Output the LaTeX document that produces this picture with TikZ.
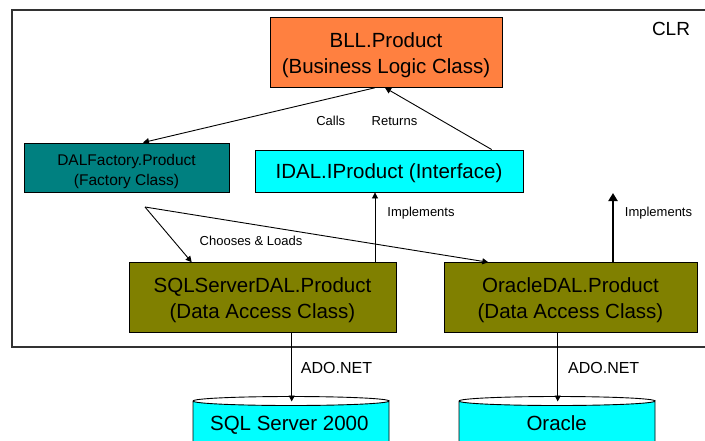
\documentclass[tikz,border=0pt]{standalone}
\usepackage{fontspec}
\setmainfont{Liberation Sans}
\usetikzlibrary{arrows.meta}
\definecolor{bllorange}{RGB}{255,128,64}
\definecolor{factteal}{RGB}{0,128,128}
\definecolor{ifcyan}{RGB}{0,255,255}
\definecolor{daolive}{RGB}{128,128,0}
\definecolor{framegray}{RGB}{50,50,50}
\newcommand{\lowtext}[2]{\raisebox{-#1}[\height][\depth]{\begin{tabular}{@{}c@{}}#2\end{tabular}}}
\tikzset{
  box/.style={draw=black, line width=0.9pt, inner sep=0pt, anchor=center},
  bigtxt/.style={font=\fontsize{20.5}{26.5}\selectfont},
  midtxt/.style={font=\fontsize{15.5}{20}\selectfont},
  lbl/.style={inner sep=0pt, anchor=center, font=\fontsize{13}{15}\selectfont, text height=9.5pt, text depth=0pt},
  adolbl/.style={inner sep=0pt, anchor=center, font=\fontsize{16}{18}\selectfont, text height=11.5pt, text depth=0pt},
  dbtxt/.style={inner sep=0pt, anchor=center, font=\fontsize{20.5}{24}\selectfont, text height=14.7pt, text depth=0pt},
  arr/.style={draw=black, line width=0.9pt, -{Triangle[length=6pt,width=6pt]}},
  thickarr/.style={draw=black, line width=2pt, -{Triangle[length=8pt,width=9pt]}},
  dbfill/.style={fill=ifcyan, draw=black, line width=0.9pt}
}
\begin{document}
\begin{tikzpicture}[x=1pt,y=-1pt]
\useasboundingbox[fill=white] (0,0) rectangle (705,440);
% CLR frame
\draw[framegray, line width=1.3pt] (12,10) rectangle (720,347);
\node[inner sep=0pt, anchor=center, font=\fontsize{19}{21}\selectfont, text height=13.7pt, text depth=0pt] (clr) at (671,29) {CLR};

% boxes
\node[box, bigtxt, fill=bllorange, minimum width=232pt, minimum height=70pt] (bll) at (386,52.3) {\lowtext{3pt}{BLL.Product\\(Business Logic Class)}};
\node[box, midtxt, fill=factteal, minimum width=205pt, minimum height=49pt] (dalf) at (126.5,167.5) {\lowtext{4pt}{DALFactory.Product\\(Factory Class)}};
\node[box, bigtxt, fill=ifcyan, minimum width=268pt, minimum height=42pt, text height=14.7pt, text depth=0pt] (idal) at (389,171) {IDAL.IProduct (Interface)};
\node[box, bigtxt, fill=daolive, minimum width=267pt, minimum height=70pt] (sqls) at (262.5,297.7) {\lowtext{2.3pt}{SQLServerDAL.Product\\(Data Access Class)}};
\node[box, bigtxt, fill=daolive, minimum width=253pt, minimum height=70pt] (ora) at (570.5,297.7) {\lowtext{2.3pt}{OracleDAL.Product\\(Data Access Class)}};

% databases
\path[dbfill] (193,401) -- (193,470) -- (389,470) -- (389,401)
  arc[start angle=0, end angle=180, x radius=98, y radius=4.5];
\draw[black, line width=0.9pt] (193,401) arc[start angle=180, end angle=360, x radius=98, y radius=4.5];
\coordinate (sqltop) at (291.7,401.5);
\node[dbtxt] (sqldb) at (289.3,423) {SQL Server 2000};

\path[dbfill] (459,401) -- (459,470) -- (655,470) -- (655,401)
  arc[start angle=0, end angle=180, x radius=98, y radius=4.5];
\draw[black, line width=0.9pt] (459,401) arc[start angle=180, end angle=360, x radius=98, y radius=4.5];
\coordinate (oratop) at (557.7,401.5);
\node[dbtxt] (oradb) at (556.7,423) {Oracle};

% connectors
\draw[arr] ([xshift=-11pt]bll.south) -- ([xshift=16.5pt]dalf.north);
\node[lbl] (calls) at (330.7,121) {Calls};
\draw[arr] ([xshift=102.7pt]idal.north) -- ([xshift=-1pt]bll.south);
\node[lbl] (returns) at (394.5,121) {Returns};

\coordinate (choose) at (145,207);
\draw[arr] (choose) -- ([xshift=-70.8pt]sqls.north);
\draw[arr] (choose) -- ([xshift=-82.2pt]ora.north);
\node[lbl] (chooses) at (251,241) {Chooses \& Loads};

\draw[arr] ([xshift=112.5pt]sqls.north) -- ([xshift=-14pt]idal.south);
\node[lbl] (impl1) at (421,212) {Implements};
\coordinate (implend) at (613,193);
\draw[thickarr] ([xshift=42.5pt]ora.north) -- (implend);
\node[lbl] (impl2) at (658.5,212) {Implements};

\draw[arr] ([xshift=29.2pt]sqls.south) -- (sqltop);
\node[adolbl] (ado1) at (336.5,368) {ADO.NET};
\draw[arr] ([xshift=-12.8pt]ora.south) -- (oratop);
\node[adolbl] (ado2) at (603.7,368) {ADO.NET};
\end{tikzpicture}
\end{document}
